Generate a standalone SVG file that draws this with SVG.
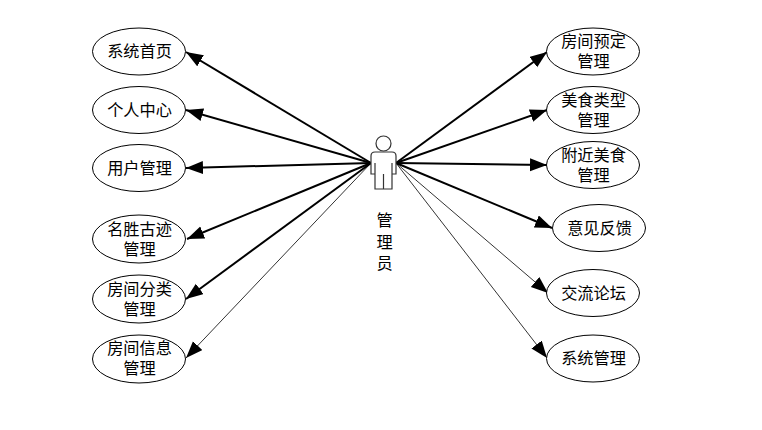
<svg xmlns="http://www.w3.org/2000/svg" width="762" height="430" viewBox="0 0 762 430">
<style>
.n ellipse{fill:#fff;stroke:#000;stroke-width:1}
text{font-family:"Noto Sans CJK SC","Liberation Sans",sans-serif;font-size:16.200px;text-anchor:middle;fill:#000}
.c line{stroke:#000}
.h{stroke-width:2;marker-end:url(#a)}
.t{stroke-width:1;stroke-opacity:.8;marker-end:url(#a)}
.actor{fill:#fff;stroke:#333;stroke-width:1.200}
</style>
<defs>
<marker id="a" markerUnits="userSpaceOnUse" markerWidth="18" markerHeight="14" refX="17" refY="6.500" orient="auto"><path d="M0 0L17 6.500L0 13Z" fill="#000"/></marker>
</defs>
<g id="connectors" class="c">
<line class="h" x1="371" y1="163" x2="186" y2="52"/>
<line class="h" x1="371" y1="163" x2="186" y2="110"/>
<line class="h" x1="371" y1="163" x2="186" y2="168"/>
<line class="h" x1="371" y1="163" x2="187" y2="239"/>
<line class="h" x1="371" y1="163" x2="186" y2="299"/>
<line class="t" x1="371" y1="163" x2="186" y2="358"/>
<line class="h" x1="396" y1="163" x2="547" y2="52"/>
<line class="h" x1="396" y1="163" x2="547" y2="110"/>
<line class="h" x1="396" y1="163" x2="547" y2="165"/>
<line class="h" x1="396" y1="163" x2="552" y2="228"/>
<line class="t" x1="396" y1="163" x2="548" y2="293"/>
<line class="t" x1="396" y1="163" x2="547" y2="358"/>
</g>
<g id="actor">
<circle class="actor" cx="383.500" cy="143.500" r="7.500"/>
<path class="actor" d="M375 152H392Q396 152 396 156V174H392V189H375V174H371V156Q371 152 375 152ZM375 163V174M392 163V174M383.500 174V189"/>
<text x="384.500" y="226">管<tspan x="384.500" y="248">理</tspan><tspan x="384.500" y="269">员</tspan></text>
</g>
<g id="n1" class="n"><ellipse cx="139" cy="51.500" rx="46.500" ry="23.500"/><text x="139.500" y="57">系统首页</text></g>
<g id="n2" class="n"><ellipse cx="139" cy="110" rx="46.500" ry="23.500"/><text x="139.500" y="115.500">个人中心</text></g>
<g id="n3" class="n"><ellipse cx="139" cy="168" rx="46.500" ry="23.500"/><text x="139.500" y="174">用户管理</text></g>
<g id="n4" class="n"><ellipse cx="139" cy="239" rx="46.500" ry="24"/><text x="139.500" y="235">名胜古迹<tspan x="139.500" y="255">管理</tspan></text></g>
<g id="n5" class="n"><ellipse cx="139" cy="299" rx="46.500" ry="24"/><text x="139.500" y="295">房间分类<tspan x="139.500" y="315">管理</tspan></text></g>
<g id="n6" class="n"><ellipse cx="139" cy="359" rx="46.500" ry="24"/><text x="139.500" y="354">房间信息<tspan x="139.500" y="374">管理</tspan></text></g>
<g id="n7" class="n"><ellipse cx="593" cy="51.500" rx="46.500" ry="23.500"/><text x="593.500" y="47">房间预定<tspan x="593.500" y="67">管理</tspan></text></g>
<g id="n8" class="n"><ellipse cx="593" cy="110" rx="46.500" ry="23.500"/><text x="593.500" y="106">美食类型<tspan x="593.500" y="126">管理</tspan></text></g>
<g id="n9" class="n"><ellipse cx="593" cy="165" rx="46.500" ry="23.500"/><text x="593.500" y="161">附近美食<tspan x="593.500" y="181">管理</tspan></text></g>
<g id="n10" class="n"><ellipse cx="599" cy="228" rx="46.500" ry="23.500"/><text x="599.500" y="233.500">意见反馈</text></g>
<g id="n11" class="n"><ellipse cx="593" cy="293" rx="46.500" ry="23.500"/><text x="593.500" y="299">交流论坛</text></g>
<g id="n12" class="n"><ellipse cx="593" cy="358.500" rx="46.500" ry="23.500"/><text x="593.500" y="364">系统管理</text></g>
</svg>
